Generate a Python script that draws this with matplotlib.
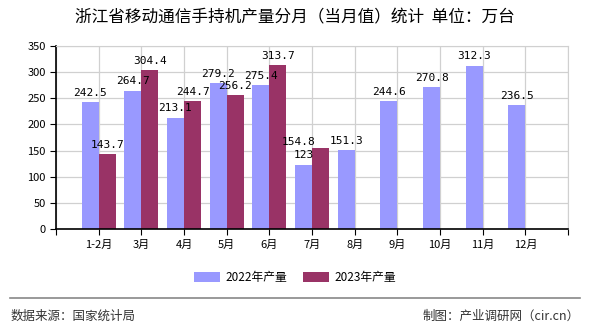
import numpy as np
import matplotlib.pyplot as plt

plt.rcParams['font.family'] = ['Noto Sans CJK SC', 'DejaVu Sans']

months = ["1-2月", "3月", "4月", "5月", "6月", "7月", "8月", "9月", "10月", "11月", "12月"]
output_2022 = [242.5, 264.7, 213.1, 279.2, 275.4, 123, 151.3, 244.6, 270.8, 312.3, 236.5]
output_2023 = [143.7, 304.4, 244.7, 256.2, 313.7, 154.8]
labels_2022 = ["242.5", "264.7", "213.1", "279.2", "275.4", "123", "151.3", "244.6", "270.8", "312.3", "236.5"]
labels_2023 = ["143.7", "304.4", "244.7", "256.2", "313.7", "154.8"]

c2022 = "#9999FF"
c2023 = "#993366"

fig = plt.figure(figsize=(5.9, 3.3), dpi=100)
ax = fig.add_axes([0.0949, 0.306, 0.868, 0.555])

x = np.arange(len(months))
w = 0.4
x23 = np.arange(len(output_2023))
ax.bar(x - w / 2, output_2022, width=w, color=c2022, label="2022年产量", zorder=2)
ax.bar(x23 + w / 2, output_2023, width=w, color=c2023, label="2023年产量", zorder=2)

# value labels above bars
num_font = dict(family="DejaVu Sans Mono", fontsize=8, color="black")
for i, (v, s) in enumerate(zip(output_2022, labels_2022)):
    ax.annotate(s, (x[i] - w / 2, v), xytext=(0, 3), textcoords="offset points",
                ha="center", va="bottom", zorder=3, **num_font)
for i, (v, s) in enumerate(zip(output_2023, labels_2023)):
    dx = -16 if i == 5 else 0
    dy = 1 if i == 5 else 3
    ax.annotate(s, (x23[i] + w / 2, v), xytext=(dx, dy), textcoords="offset points",
                ha="center", va="bottom", zorder=3, **num_font)

ax.set_xlim(-1, 11)
ax.set_ylim(0, 350)
ax.set_yticks(np.arange(0, 351, 50))
ax.set_xticks(np.arange(-1, 12))
ax.set_xticklabels([""] + months + [""])
ax.tick_params(axis="both", labelsize=8, length=4, direction="out", color="black")
ax.grid(True, color="#d0d0d0", linewidth=0.9, zorder=0)
for s in ["top", "right"]:
    ax.spines[s].set_color("#d0d0d0")
for s in ["left", "bottom"]:
    ax.spines[s].set_color("black")
    ax.spines[s].set_linewidth(1.2)

fig.text(0.5, 0.945, "浙江省移动通信手持机产量分月（当月值）统计  单位：万台",
         ha="center", va="center", fontsize=12)

fig.legend(loc="center", bbox_to_anchor=(0.5, 0.158), ncol=2, frameon=False,
           fontsize=8.5, handlelength=2.2, handleheight=0.9, handletextpad=0.4,
           columnspacing=1.4)

fig.add_artist(plt.Line2D([0.017, 0.983], [0.097, 0.097], color="#888888", linewidth=1.2))
fig.text(0.017, 0.042, "数据来源：国家统计局", ha="left", va="center", fontsize=9, color="#333333")
fig.text(0.983, 0.042, "制图：产业调研网（cir.cn）", ha="right", va="center", fontsize=9, color="#333333")

fig.savefig("out.png", dpi=100)
